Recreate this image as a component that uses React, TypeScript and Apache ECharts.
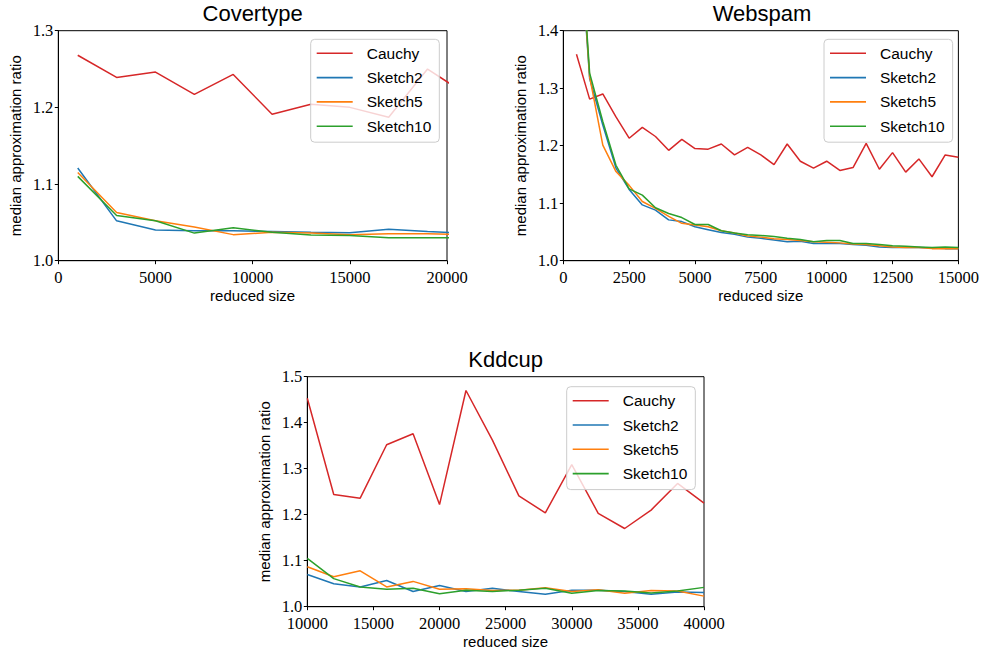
import React, { useEffect, useRef } from "react";
import * as echarts from "echarts";

// ---------- Data ----------
const seriesNames = ["Cauchy", "Sketch2", "Sketch5", "Sketch10"];
const colors = ["#d62728", "#1f77b4", "#ff7f0e", "#2ca02c"];

// Covertype
const coverX = [1000, 3000, 5000, 7000, 9000, 11000, 13000, 15000, 17000, 19000, 21000];
const coverCauchy = [1.268, 1.239, 1.246, 1.217, 1.243, 1.191, 1.204, 1.2, 1.187, 1.25, 1.217];
const coverSketch2 = [1.121, 1.052, 1.04, 1.039, 1.039, 1.038, 1.037, 1.0365, 1.041, 1.038, 1.036];
const coverSketch5 = [1.115, 1.063, 1.052, 1.044, 1.034, 1.037, 1.036, 1.034, 1.035, 1.035, 1.034];
const coverSketch10 = [1.11, 1.059, 1.052, 1.036, 1.043, 1.037, 1.0335, 1.033, 1.03, 1.03, 1.03];

// Webspam
const webX = [
  500, 1000, 1500, 2000, 2500, 3000, 3500, 4000, 4500, 5000, 5500, 6000, 6500, 7000, 7500,
  8000, 8500, 9000, 9500, 10000, 10500, 11000, 11500, 12000, 12500, 13000, 13500, 14000, 14500, 15000,
];
const webCauchy = [
  1.359, 1.281, 1.29, 1.25, 1.213, 1.232, 1.216, 1.192, 1.211, 1.195, 1.194, 1.203, 1.184, 1.197, 1.184,
  1.167, 1.203, 1.173, 1.161, 1.173, 1.157, 1.162, 1.204, 1.159, 1.188, 1.154, 1.177, 1.146, 1.184, 1.18,
];
const webSketch2 = [
  1.65, 1.317, 1.236, 1.161, 1.124, 1.097, 1.088, 1.071, 1.068, 1.059, 1.054, 1.049, 1.046, 1.041, 1.039,
  1.036, 1.033, 1.034, 1.03, 1.03, 1.03, 1.028, 1.027, 1.024, 1.023, 1.023, 1.023, 1.022, 1.021, 1.021,
];
const webSketch5 = [
  1.66, 1.32, 1.201, 1.155, 1.131, 1.103, 1.091, 1.077, 1.065, 1.062, 1.059, 1.052, 1.048, 1.043, 1.041,
  1.038, 1.037, 1.035, 1.033, 1.032, 1.031, 1.029, 1.028, 1.026, 1.024, 1.023, 1.023, 1.021, 1.021, 1.021,
];
const webSketch10 = [
  1.67, 1.326, 1.242, 1.166, 1.125, 1.114, 1.092, 1.082, 1.075, 1.063, 1.063, 1.052, 1.048, 1.045, 1.044,
  1.042, 1.039, 1.037, 1.033, 1.035, 1.035, 1.03, 1.03, 1.028, 1.026, 1.025, 1.024, 1.023, 1.024, 1.023,
];

// Kddcup
const kddX = [
  10000, 12000, 14000, 16000, 18000, 20000, 22000, 24000, 26000, 28000, 30000, 32000, 34000, 36000, 38000, 40000,
];
const kddCauchy = [
  1.453, 1.244, 1.236, 1.352, 1.376, 1.222, 1.47, 1.362, 1.241, 1.204, 1.309, 1.203, 1.17, 1.21, 1.268, 1.225,
];
const kddSketch2 = [
  1.07, 1.05, 1.043, 1.057, 1.033, 1.046, 1.033, 1.04, 1.033, 1.027, 1.036, 1.036, 1.033, 1.027, 1.032, 1.031,
];
const kddSketch5 = [
  1.087, 1.065, 1.078, 1.043, 1.055, 1.038, 1.039, 1.035, 1.036, 1.041, 1.033, 1.037, 1.029, 1.035, 1.034, 1.023,
];
const kddSketch10 = [
  1.105, 1.061, 1.043, 1.038, 1.04, 1.028, 1.036, 1.033, 1.036, 1.04, 1.029, 1.035, 1.034, 1.03, 1.034, 1.042,
];

const titles = ["Covertype", "Webspam", "Kddcup"];
const xRanges = [
  { min: 0, max: 20000, interval: 5000 },
  { min: 0, max: 15000, interval: 2500 },
  { min: 10000, max: 40000, interval: 5000 },
];
const yRanges = [
  { min: 1.0, max: 1.3, interval: 0.1 },
  { min: 1.0, max: 1.4, interval: 0.1 },
  { min: 1.0, max: 1.5, interval: 0.1 },
];

const panels = [
  { x: coverX, ys: [coverCauchy, coverSketch2, coverSketch5, coverSketch10] },
  { x: webX, ys: [webCauchy, webSketch2, webSketch5, webSketch10] },
  { x: kddX, ys: [kddCauchy, kddSketch2, kddSketch5, kddSketch10] },
];

// ---------- Layout ----------
const grids = [
  { left: 58.3, top: 30.7, width: 388.7, height: 230 },
  { left: 563.3, top: 30.7, width: 397.4, height: 230 },
  { left: 307.3, top: 376.7, width: 396.7, height: 230 },
];
const legendPos = [
  { left: 310.7, top: 39.3 },
  { left: 824, top: 39.3 },
  { left: 566.7, top: 386.7 },
];

const SERIF = "Liberation Serif";
const SANS = "Liberation Sans";

export default function App() {
  const ref = useRef<HTMLDivElement>(null);

  useEffect(() => {
    if (!ref.current) return;
    const chart = echarts.init(ref.current, null, { renderer: "svg" });

    const option: any = {
      animation: false,
      backgroundColor: "#ffffff",
      title: grids.map((g, i) => ({
        text: titles[i],
        left: g.left + g.width / 2,
        top: g.top - 28,
        textAlign: "center",
        padding: 0,
        textStyle: { fontFamily: SANS, fontSize: 22, fontWeight: "normal", color: "#000" },
      })),
      grid: grids.map((g) => ({
        left: g.left,
        top: g.top,
        width: g.width,
        height: g.height,
        show: true,
        borderColor: "#000",
        borderWidth: 1,
        backgroundColor: "transparent",
        containLabel: false,
      })),
      xAxis: grids.map((_, i) => ({
        type: "value",
        gridIndex: i,
        min: xRanges[i].min,
        max: xRanges[i].max,
        interval: xRanges[i].interval,
        name: "reduced size",
        nameLocation: "middle",
        nameGap: 27,
        nameTextStyle: { fontFamily: SANS, fontSize: 15, color: "#000" },
        axisLine: { show: true, onZero: false, lineStyle: { color: "#000", width: 1 } },
        axisTick: { show: true, length: 3.5, lineStyle: { color: "#000" } },
        axisLabel: {
          margin: 11.5,
          lineHeight: 11,
          fontFamily: SERIF,
          fontSize: 16.5,
          color: "#000",
          formatter: (v: number) => String(Math.round(v)),
        },
        splitLine: { show: false },
      })),
      yAxis: grids.map((_, i) => ({
        type: "value",
        gridIndex: i,
        min: yRanges[i].min,
        max: yRanges[i].max,
        interval: yRanges[i].interval,
        name: "median approximation ratio",
        nameLocation: "middle",
        nameGap: 35,
        nameTextStyle: { fontFamily: SANS, fontSize: 15, color: "#000" },
        axisLine: { show: true, onZero: false, lineStyle: { color: "#000", width: 1 } },
        axisTick: { show: true, length: 3.5, lineStyle: { color: "#000" } },
        axisLabel: {
          margin: 5,
          lineHeight: 13,
          fontFamily: SERIF,
          fontSize: 16.5,
          color: "#000",
          formatter: (v: number) => v.toFixed(1),
        },
        splitLine: { show: false },
      })),
      legend: legendPos.map((p) => ({
        data: seriesNames,
        orient: "vertical",
        left: p.left,
        top: p.top,
        icon: "rect",
        itemWidth: 36,
        itemHeight: 1.6,
        itemGap: 8.3,
        padding: [6, 8, 8, 6],
        backgroundColor: "rgba(255,255,255,0.8)",
        borderColor: "#cccccc",
        borderWidth: 1,
        borderRadius: 4,
        selectedMode: false,
        textStyle: {
          fontFamily: SANS,
          fontSize: 15.5,
          lineHeight: 16,
          color: "#000",
          padding: [0, 0, 0, 9],
        },
      })),
      series: panels.flatMap((p, gi) =>
        p.ys.map((ys, si) => ({
          type: "line",
          name: seriesNames[si],
          xAxisIndex: gi,
          yAxisIndex: gi,
          data: p.x.map((xv, k) => [xv, ys[k]]),
          symbol: "none",
          showSymbol: false,
          clip: true,
          color: colors[si],
          itemStyle: { color: colors[si] },
          lineStyle: { color: colors[si], width: 1.5 },
          z: 2 + si * 0.1,
        }))
      ),
    };

    chart.setOption(option);
    return () => {
      chart.dispose();
    };
  }, []);

  return (
    <div
      ref={ref}
      style={{ position: "fixed", left: 0, top: 0, width: 982, height: 650, background: "#fff" }}
    />
  );
}
